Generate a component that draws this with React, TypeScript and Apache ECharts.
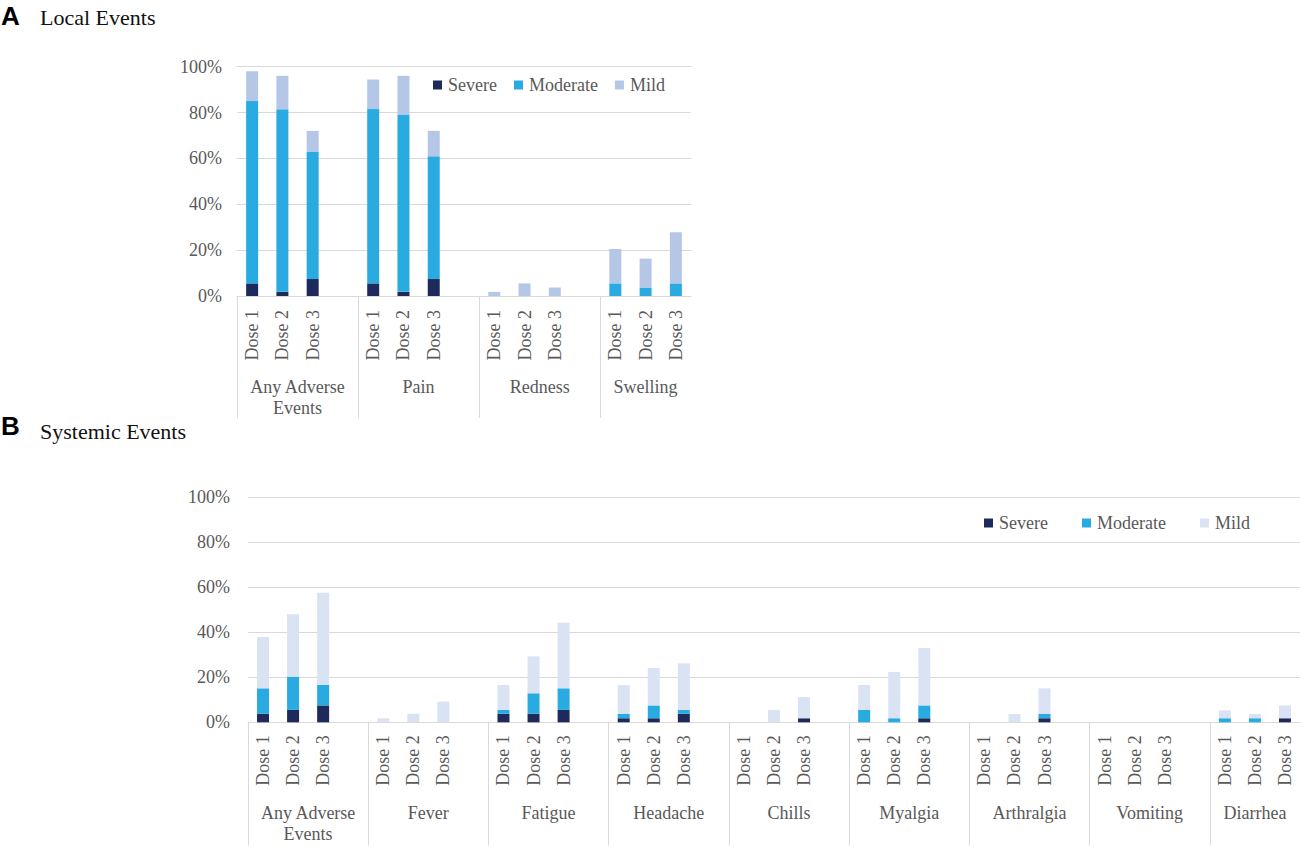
import { useEffect, useRef } from 'react';
import * as echarts from 'echarts';

// ---------- data ----------
const doses = ['Dose 1', 'Dose 2', 'Dose 3'];
const gradeNames = ['Severe', 'Moderate', 'Mild'];
const yTicks = [0, 20, 40, 60, 80, 100];

const localGroups = ['Any Adverse\nEvents', 'Pain', 'Redness', 'Swelling'];
// percent of participants, per group: [Dose 1, Dose 2, Dose 3]
const localSevere = [[5.5, 1.8, 7.4], [5.5, 1.8, 7.4], [0, 0, 0], [0, 0, 0]];
const localModerate = [[79.5, 79.6, 55.6], [76.0, 77.4, 53.5], [0, 0, 0], [5.5, 3.7, 5.5]];
const localMild = [[13.0, 14.6, 9.0], [12.9, 16.8, 11.1], [1.8, 5.5, 3.7], [15.0, 12.6, 22.3]];

const systemicGroups = ['Any Adverse\nEvents', 'Fever', 'Fatigue', 'Headache', 'Chills', 'Myalgia', 'Arthralgia', 'Vomiting', 'Diarrhea'];
const systemicSevere = [[3.8, 5.5, 7.5], [0, 0, 0], [3.8, 3.8, 5.5], [1.8, 1.8, 3.8], [0, 0, 1.8], [0, 0, 1.8], [0, 0, 1.8], [0, 0, 0], [0, 0, 1.8]];
const systemicModerate = [[11.3, 14.8, 9.1], [0, 0, 0], [1.7, 9.1, 9.6], [2.0, 5.7, 1.7], [0, 0, 0], [5.5, 1.8, 5.7], [0, 0, 2.0], [0, 0, 0], [1.8, 1.8, 0]];
const systemicMild = [[22.8, 27.7, 41.0], [1.8, 3.8, 9.2], [11.1, 16.4, 29.2], [12.7, 16.6, 20.7], [0, 5.5, 9.4], [11.1, 20.6, 25.5], [0, 3.7, 11.3], [0, 0, 0], [3.5, 1.9, 5.7]];

// ---------- styles ----------
const SEVERE = '#1F2A5C';
const MODERATE = '#29ABE2';
const MILD_A = '#B4C7E7';
const MILD_B = '#DAE3F3';
const GRID_LINE = '#D9D9D9';
const TEXT = '#595959';
const SERIF = '"Liberation Serif", "Times New Roman", serif';

// categories: 3 doses per group plus a blank slot between groups
function doseCategories(groups: string[]): string[] {
  const out: string[] = [];
  groups.forEach((_, i) => {
    out.push(...doses);
    if (i < groups.length - 1) out.push('');
  });
  return out;
}
function flatValues(values: number[][]): (number | null)[] {
  const out: (number | null)[] = [];
  values.forEach((g, i) => {
    out.push(...g);
    if (i < values.length - 1) out.push(null);
  });
  return out;
}
// half-slot positions for the group labels (boundaryGap false axis)
function groupAxisData(groups: string[]): string[] {
  const slots = groups.length * 4 - 1;
  const pts: string[] = new Array(slots * 2 + 1).fill('');
  groups.forEach((g, i) => {
    const center = i < groups.length - 1 ? i * 8 + 4 : i * 8 + 3;
    pts[center] = g;
  });
  return pts;
}
function separatorSet(groups: string[]): Set<number> {
  return new Set(groups.map((_, i) => i * 8));
}

const localCats = doseCategories(localGroups);
const systemicCats = doseCategories(systemicGroups);
const localSep = separatorSet(localGroups);
const systemicSep = separatorSet(systemicGroups);

function doseAxis(gridIndex: number, cats: string[], margin: number) {
  return {
    type: 'category',
    gridIndex,
    data: cats,
    position: 'bottom',
    axisLine: { show: true, lineStyle: { color: GRID_LINE, width: 1 } },
    axisTick: { show: false },
    axisLabel: { interval: 0, rotate: 90, margin, fontSize: 18, color: TEXT, fontFamily: SERIF },
  };
}
function groupAxis(gridIndex: number, groups: string[], sep: Set<number>, tickLen: number, margin: number) {
  return {
    type: 'category',
    gridIndex,
    position: 'bottom',
    boundaryGap: false,
    data: groupAxisData(groups),
    axisLine: { show: false },
    axisTick: {
      show: true,
      length: tickLen,
      interval: (idx: number) => sep.has(idx),
      lineStyle: { color: GRID_LINE, width: 1 },
    },
    axisLabel: { interval: 0, margin, fontSize: 18, lineHeight: 21, color: TEXT, fontFamily: SERIF, align: 'center' },
    splitLine: { show: false },
  };
}
function valueAxis(gridIndex: number, margin: number) {
  return {
    type: 'value',
    gridIndex,
    min: 0,
    max: yTicks[yTicks.length - 1],
    interval: yTicks[1] - yTicks[0],
    axisLine: { show: false },
    axisTick: { show: false },
    axisLabel: { formatter: '{value}%', margin, fontSize: 18, color: TEXT, fontFamily: SERIF },
    splitLine: { show: true, lineStyle: { color: GRID_LINE, width: 1 } },
  };
}
function barSeries(name: string, xAxisIndex: number, yAxisIndex: number, stack: string, values: number[][], color: string) {
  return {
    type: 'bar',
    name,
    xAxisIndex,
    yAxisIndex,
    stack,
    barWidth: 12,
    data: flatValues(values),
    itemStyle: { color },
  };
}
function legend(left: number, top: number, gap: number, mild: string) {
  const colors = [SEVERE, MODERATE, mild];
  return {
    left,
    top,
    orient: 'horizontal',
    selectedMode: false,
    itemGap: gap,
    itemWidth: 9,
    itemHeight: 9,
    icon: 'rect',
    padding: 0,
    textStyle: { fontSize: 18, color: TEXT, fontFamily: SERIF, padding: [0, 0, 0, 1] },
    data: gradeNames.map((n, i) => ({ name: n, itemStyle: { color: colors[i] } })),
  };
}

export default function App() {
  const ref = useRef<HTMLDivElement>(null);
  useEffect(() => {
    if (!ref.current) return;
    const chart = echarts.init(ref.current, null, { renderer: 'svg' });
    chart.setOption({
      animation: false,
      backgroundColor: '#ffffff',
      title: [
        { text: 'A', left: 1, top: 3, padding: 0, textStyle: { fontFamily: '"Liberation Sans", Arial, sans-serif', fontWeight: 'bold', fontSize: 26, color: '#000' } },
        { text: 'Local Events', left: 40, top: 6, padding: 0, textStyle: { fontFamily: SERIF, fontWeight: 'normal', fontSize: 22, color: '#111' } },
        { text: 'B', left: 1, top: 413, padding: 0, textStyle: { fontFamily: '"Liberation Sans", Arial, sans-serif', fontWeight: 'bold', fontSize: 26, color: '#000' } },
        { text: 'Systemic Events', left: 40, top: 420, padding: 0, textStyle: { fontFamily: SERIF, fontWeight: 'normal', fontSize: 22, color: '#111' } },
      ],
      legend: [legend(433, 76, 17, MILD_A), legend(984, 514, 34, MILD_B)],
      grid: [
        { left: 237, top: 66.7, width: 454, height: 229.3, containLabel: false },
        { left: 248, top: 497.3, width: 1054, height: 225, containLabel: false },
      ],
      xAxis: [
        doseAxis(0, localCats, 14),
        groupAxis(0, localGroups, localSep, 122, 80),
        doseAxis(1, systemicCats, 13),
        groupAxis(1, systemicGroups, systemicSep, 123, 80),
      ],
      yAxis: [valueAxis(0, 15), valueAxis(1, 18)],
      series: [
        barSeries('Severe', 0, 0, 'local', localSevere, SEVERE),
        barSeries('Moderate', 0, 0, 'local', localModerate, MODERATE),
        barSeries('Mild', 0, 0, 'local', localMild, MILD_A),
        barSeries('Severe', 2, 1, 'systemic', systemicSevere, SEVERE),
        barSeries('Moderate', 2, 1, 'systemic', systemicModerate, MODERATE),
        barSeries('Mild', 2, 1, 'systemic', systemicMild, MILD_B),
      ],
    });
    return () => chart.dispose();
  }, []);
  return (
    <div
      ref={ref}
      style={{ position: 'absolute', left: 0, top: 0, width: 1303, height: 847, background: '#fff' }}
    />
  );
}
